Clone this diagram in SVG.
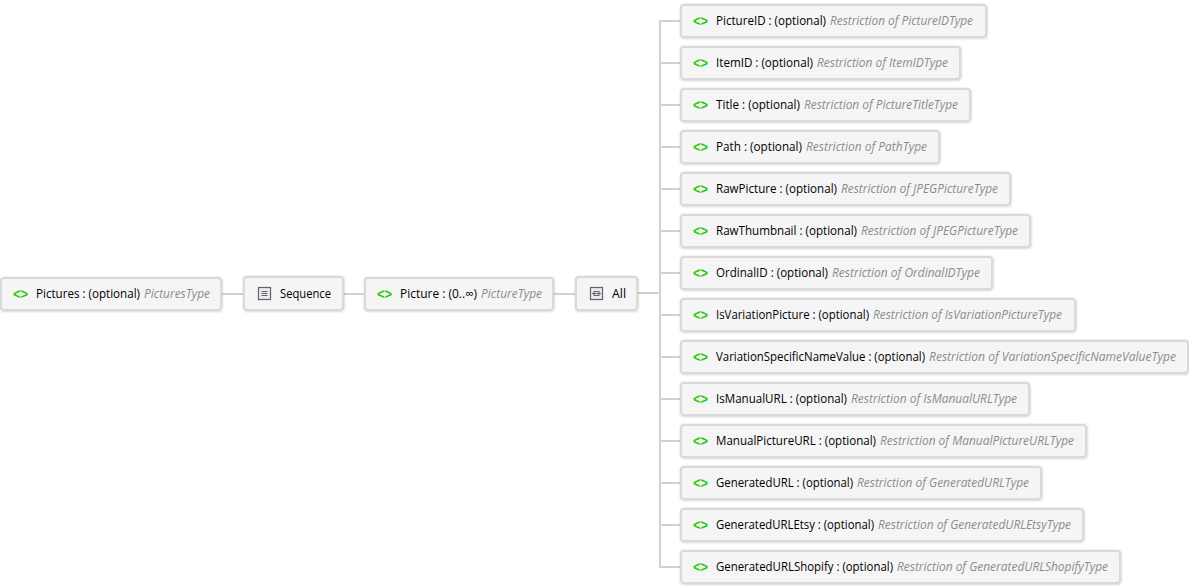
<svg xmlns="http://www.w3.org/2000/svg" width="1189" height="588" viewBox="0 0 1189 588">
<defs>
<filter id="soft" x="-5%" y="-20%" width="110%" height="140%"><feDropShadow dx="0.3" dy="0.5" stdDeviation="0.8" flood-color="#000" flood-opacity="0.22"/></filter>
<g id="seqIcon"><rect x="0.5" y="0.5" width="12" height="12" fill="#ebebf2" stroke="#62626f" stroke-width="1.2"/><path d="M3.5 4.5H9.5M3.5 6.5H9.5M3.5 8.5H9.5" stroke="#62626f" fill="none"/></g>
<g id="allIcon"><rect x="0.5" y="0.5" width="12" height="12" fill="#ebebf2" stroke="#62626f" stroke-width="1.2"/><rect x="4" y="4.5" width="5" height="4" fill="none" stroke="#62626f"/><path d="M2 6.5H11" stroke="#62626f" fill="none"/></g>
</defs>
<style>
text{font-family:"Open Sans","Noto Sans","Liberation Sans",sans-serif;font-size:12px}
.b{fill:#f5f5f5;stroke:#d9d9d9;stroke-width:2;filter:url(#soft)}
.c{fill:#22cc00;font-weight:700;font-size:15px;font-family:"Liberation Sans",sans-serif}
.n{fill:#000}
.t{fill:#8c8c8c;font-style:italic}
.k{stroke:#d2d2d2;stroke-width:2;fill:none}
</style>
<rect width="1189" height="588" fill="#fff"/>
<g id="connectors">
<path class="k" d="M222 294H244M343 294H365M554 294H576M638 293H660M660 21V568M659 21H681M660 63H681M660 105H681M660 147H681M660 189H681M660 231H681M660 273H681M660 315H681M660 357H681M660 399H681M660 441H681M660 483H681M660 525H681M659 567H681"/>
</g>
<g id="node-Pictures"><rect class="b" x="1" y="278" width="220" height="32" rx="3"/><text class="c" x="13" y="299" textLength="15" lengthAdjust="spacingAndGlyphs">&lt;&gt;</text><text class="n" x="36" y="298" textLength="104" lengthAdjust="spacingAndGlyphs">Pictures : (optional)</text><text class="t" x="144" y="298" textLength="66" lengthAdjust="spacingAndGlyphs">PicturesType</text></g>
<g id="node-Sequence"><rect class="b" x="244" y="277" width="99" height="33" rx="3"/><use href="#seqIcon" x="258" y="287"/><text class="n" x="280" y="298" textLength="51" lengthAdjust="spacingAndGlyphs">Sequence</text></g>
<g id="node-Picture"><rect class="b" x="365" y="278" width="188" height="32" rx="3"/><text class="c" x="377" y="299" textLength="15" lengthAdjust="spacingAndGlyphs">&lt;&gt;</text><text class="n" x="400" y="298" textLength="77" lengthAdjust="spacingAndGlyphs">Picture : (0..∞)</text><text class="t" x="481" y="298" textLength="61" lengthAdjust="spacingAndGlyphs">PictureType</text></g>
<g id="node-All"><rect class="b" x="576" y="277" width="61" height="33" rx="3"/><use href="#allIcon" x="590" y="287"/><text class="n" x="612" y="298" textLength="14" lengthAdjust="spacingAndGlyphs">All</text></g>
<g id="node-PictureID"><rect class="b" x="681" y="5" width="305" height="32" rx="3"/><text class="c" x="693" y="26" textLength="15" lengthAdjust="spacingAndGlyphs">&lt;&gt;</text><text class="n" x="716" y="25" textLength="110" lengthAdjust="spacingAndGlyphs">PictureID : (optional)</text><text class="t" x="830" y="25" textLength="143" lengthAdjust="spacingAndGlyphs">Restriction of PictureIDType</text></g>
<g id="node-ItemID"><rect class="b" x="681" y="47" width="279" height="32" rx="3"/><text class="c" x="693" y="68" textLength="15" lengthAdjust="spacingAndGlyphs">&lt;&gt;</text><text class="n" x="716" y="67" textLength="97" lengthAdjust="spacingAndGlyphs">ItemID : (optional)</text><text class="t" x="817" y="67" textLength="131" lengthAdjust="spacingAndGlyphs">Restriction of ItemIDType</text></g>
<g id="node-Title"><rect class="b" x="681" y="89" width="289" height="32" rx="3"/><text class="c" x="693" y="110" textLength="15" lengthAdjust="spacingAndGlyphs">&lt;&gt;</text><text class="n" x="716" y="109" textLength="84" lengthAdjust="spacingAndGlyphs">Title : (optional)</text><text class="t" x="804" y="109" textLength="154" lengthAdjust="spacingAndGlyphs">Restriction of PictureTitleType</text></g>
<g id="node-Path"><rect class="b" x="681" y="131" width="258" height="32" rx="3"/><text class="c" x="693" y="152" textLength="15" lengthAdjust="spacingAndGlyphs">&lt;&gt;</text><text class="n" x="716" y="151" textLength="86" lengthAdjust="spacingAndGlyphs">Path : (optional)</text><text class="t" x="806" y="151" textLength="121" lengthAdjust="spacingAndGlyphs">Restriction of PathType</text></g>
<g id="node-RawPicture"><rect class="b" x="681" y="173" width="329" height="32" rx="3"/><text class="c" x="693" y="194" textLength="15" lengthAdjust="spacingAndGlyphs">&lt;&gt;</text><text class="n" x="716" y="193" textLength="121" lengthAdjust="spacingAndGlyphs">RawPicture : (optional)</text><text class="t" x="841" y="193" textLength="157" lengthAdjust="spacingAndGlyphs">Restriction of JPEGPictureType</text></g>
<g id="node-RawThumbnail"><rect class="b" x="681" y="215" width="349" height="32" rx="3"/><text class="c" x="693" y="236" textLength="15" lengthAdjust="spacingAndGlyphs">&lt;&gt;</text><text class="n" x="716" y="235" textLength="141" lengthAdjust="spacingAndGlyphs">RawThumbnail : (optional)</text><text class="t" x="861" y="235" textLength="157" lengthAdjust="spacingAndGlyphs">Restriction of JPEGPictureType</text></g>
<g id="node-OrdinalID"><rect class="b" x="681" y="257" width="311" height="32" rx="3"/><text class="c" x="693" y="278" textLength="15" lengthAdjust="spacingAndGlyphs">&lt;&gt;</text><text class="n" x="716" y="277" textLength="112" lengthAdjust="spacingAndGlyphs">OrdinalID : (optional)</text><text class="t" x="832" y="277" textLength="148" lengthAdjust="spacingAndGlyphs">Restriction of OrdinalIDType</text></g>
<g id="node-IsVariationPicture"><rect class="b" x="681" y="299" width="394" height="32" rx="3"/><text class="c" x="693" y="320" textLength="15" lengthAdjust="spacingAndGlyphs">&lt;&gt;</text><text class="n" x="716" y="319" textLength="153" lengthAdjust="spacingAndGlyphs">IsVariationPicture : (optional)</text><text class="t" x="873" y="319" textLength="189" lengthAdjust="spacingAndGlyphs">Restriction of IsVariationPictureType</text></g>
<g id="node-VariationSpecificNameValue"><rect class="b" x="681" y="341" width="507" height="32" rx="3"/><text class="c" x="693" y="362" textLength="15" lengthAdjust="spacingAndGlyphs">&lt;&gt;</text><text class="n" x="716" y="361" textLength="209" lengthAdjust="spacingAndGlyphs">VariationSpecificNameValue : (optional)</text><text class="t" x="929" y="361" textLength="247" lengthAdjust="spacingAndGlyphs">Restriction of VariationSpecificNameValueType</text></g>
<g id="node-IsManualURL"><rect class="b" x="681" y="383" width="348" height="32" rx="3"/><text class="c" x="693" y="404" textLength="15" lengthAdjust="spacingAndGlyphs">&lt;&gt;</text><text class="n" x="716" y="403" textLength="131" lengthAdjust="spacingAndGlyphs">IsManualURL : (optional)</text><text class="t" x="851" y="403" textLength="166" lengthAdjust="spacingAndGlyphs">Restriction of IsManualURLType</text></g>
<g id="node-ManualPictureURL"><rect class="b" x="681" y="425" width="405" height="32" rx="3"/><text class="c" x="693" y="446" textLength="15" lengthAdjust="spacingAndGlyphs">&lt;&gt;</text><text class="n" x="716" y="445" textLength="160" lengthAdjust="spacingAndGlyphs">ManualPictureURL : (optional)</text><text class="t" x="880" y="445" textLength="194" lengthAdjust="spacingAndGlyphs">Restriction of ManualPictureURLType</text></g>
<g id="node-GeneratedURL"><rect class="b" x="681" y="467" width="360" height="32" rx="3"/><text class="c" x="693" y="488" textLength="15" lengthAdjust="spacingAndGlyphs">&lt;&gt;</text><text class="n" x="716" y="487" textLength="137" lengthAdjust="spacingAndGlyphs">GeneratedURL : (optional)</text><text class="t" x="857" y="487" textLength="172" lengthAdjust="spacingAndGlyphs">Restriction of GeneratedURLType</text></g>
<g id="node-GeneratedURLEtsy"><rect class="b" x="681" y="509" width="402" height="32" rx="3"/><text class="c" x="693" y="530" textLength="15" lengthAdjust="spacingAndGlyphs">&lt;&gt;</text><text class="n" x="716" y="529" textLength="158" lengthAdjust="spacingAndGlyphs">GeneratedURLEtsy : (optional)</text><text class="t" x="878" y="529" textLength="193" lengthAdjust="spacingAndGlyphs">Restriction of GeneratedURLEtsyType</text></g>
<g id="node-GeneratedURLShopify"><rect class="b" x="681" y="551" width="439" height="32" rx="3"/><text class="c" x="693" y="572" textLength="15" lengthAdjust="spacingAndGlyphs">&lt;&gt;</text><text class="n" x="716" y="571" textLength="177" lengthAdjust="spacingAndGlyphs">GeneratedURLShopify : (optional)</text><text class="t" x="897" y="571" textLength="211" lengthAdjust="spacingAndGlyphs">Restriction of GeneratedURLShopifyType</text></g>
</svg>
